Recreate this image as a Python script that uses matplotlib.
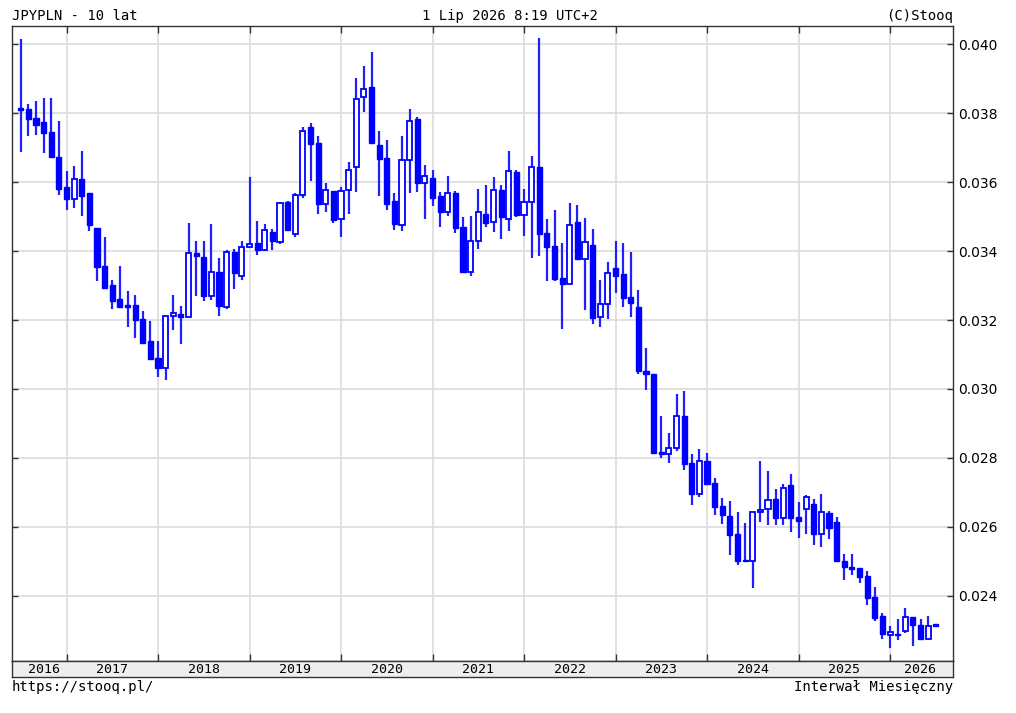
import numpy as np
import matplotlib
matplotlib.use("Agg")
import matplotlib.pyplot as plt

# monthly candles, Jul 2016 .. Jul 2026
start_year, start_month = 2016, 7
opens = [
    0.03816, 0.03813, 0.03785, 0.03773, 0.03744, 0.03674,
    0.03587, 0.03550, 0.03610, 0.03567, 0.03466, 0.03357, 0.03302, 0.03260, 0.03243, 0.03244, 0.03202, 0.03140,
    0.03090, 0.03061, 0.03211, 0.03216, 0.03210, 0.03393, 0.03383, 0.03271, 0.03339, 0.03239, 0.03397, 0.03327,
    0.03411, 0.03423, 0.03403, 0.03456, 0.03427, 0.03542, 0.03449, 0.03562, 0.03759, 0.03713, 0.03537, 0.03574,
    0.03492, 0.03577, 0.03645, 0.03846, 0.03875, 0.03708, 0.03669, 0.03546, 0.03475, 0.03664, 0.03783, 0.03598,
    0.03612, 0.03560, 0.03512, 0.03568, 0.03471, 0.03339, 0.03428, 0.03507, 0.03483, 0.03577, 0.03493, 0.03628,
    0.03504, 0.03541, 0.03643, 0.03452, 0.03414, 0.03321, 0.03304, 0.03483, 0.03376, 0.03418, 0.03208, 0.03247,
    0.03350, 0.03332, 0.03267, 0.03238, 0.03052, 0.03043, 0.02817, 0.02811, 0.02828, 0.02922, 0.02785, 0.02695,
    0.02791, 0.02727, 0.02661, 0.02632, 0.02579, 0.02504, 0.02500, 0.02642, 0.02651, 0.02680, 0.02627, 0.02720,
    0.02628, 0.02651, 0.02666, 0.02580, 0.02640, 0.02615, 0.02501, 0.02485, 0.02480, 0.02458, 0.02396, 0.02340,
    0.02287, 0.02288, 0.02299, 0.02338, 0.02316, 0.02274, 0.02317,
]
highs = [
    0.04016, 0.03828, 0.03835, 0.03843, 0.03843, 0.03778,
    0.03632, 0.03646, 0.03690, 0.03567, 0.03466, 0.03440, 0.03316, 0.03357, 0.03283, 0.03273, 0.03227, 0.03198,
    0.03140, 0.03213, 0.03273, 0.03242, 0.03481, 0.03430, 0.03430, 0.03478, 0.03379, 0.03404, 0.03406, 0.03430,
    0.03616, 0.03487, 0.03478, 0.03463, 0.03539, 0.03544, 0.03568, 0.03759, 0.03771, 0.03734, 0.03598, 0.03574,
    0.03587, 0.03658, 0.03901, 0.03937, 0.03977, 0.03749, 0.03723, 0.03568, 0.03734, 0.03812, 0.03788, 0.03650,
    0.03636, 0.03571, 0.03617, 0.03575, 0.03500, 0.03502, 0.03580, 0.03592, 0.03614, 0.03591, 0.03690, 0.03635,
    0.03581, 0.03676, 0.04017, 0.03493, 0.03520, 0.03422, 0.03538, 0.03535, 0.03495, 0.03465, 0.03317, 0.03368,
    0.03429, 0.03422, 0.03396, 0.03287, 0.03118, 0.03043, 0.02922, 0.02872, 0.02985, 0.02994, 0.02812, 0.02826,
    0.02814, 0.02741, 0.02683, 0.02675, 0.02643, 0.02611, 0.02644, 0.02791, 0.02762, 0.02709, 0.02724, 0.02753,
    0.02673, 0.02693, 0.02680, 0.02695, 0.02646, 0.02628, 0.02521, 0.02521, 0.02480, 0.02472, 0.02425, 0.02350,
    0.02311, 0.02332, 0.02364, 0.02338, 0.02332, 0.02342, 0.02319,
]
lows = [
    0.03686, 0.03734, 0.03737, 0.03683, 0.03672, 0.03564,
    0.03518, 0.03524, 0.03503, 0.03459, 0.03314, 0.03289, 0.03231, 0.03234, 0.03180, 0.03147, 0.03134, 0.03083,
    0.03035, 0.03025, 0.03170, 0.03130, 0.03210, 0.03270, 0.03254, 0.03259, 0.03213, 0.03232, 0.03290, 0.03315,
    0.03411, 0.03390, 0.03400, 0.03403, 0.03421, 0.03460, 0.03442, 0.03554, 0.03604, 0.03508, 0.03514, 0.03482,
    0.03442, 0.03508, 0.03572, 0.03804, 0.03711, 0.03561, 0.03518, 0.03461, 0.03457, 0.03568, 0.03572, 0.03493,
    0.03531, 0.03471, 0.03502, 0.03452, 0.03339, 0.03327, 0.03406, 0.03470, 0.03454, 0.03434, 0.03457, 0.03500,
    0.03445, 0.03380, 0.03387, 0.03312, 0.03312, 0.03175, 0.03304, 0.03376, 0.03228, 0.03189, 0.03179, 0.03204,
    0.03277, 0.03239, 0.03210, 0.03043, 0.02997, 0.02812, 0.02801, 0.02786, 0.02821, 0.02765, 0.02663, 0.02688,
    0.02724, 0.02635, 0.02608, 0.02519, 0.02488, 0.02500, 0.02424, 0.02615, 0.02606, 0.02604, 0.02604, 0.02586,
    0.02567, 0.02579, 0.02546, 0.02543, 0.02564, 0.02500, 0.02446, 0.02461, 0.02437, 0.02374, 0.02326, 0.02274,
    0.02250, 0.02272, 0.02292, 0.02253, 0.02274, 0.02274, 0.02311,
]
closes = [
    0.03810, 0.03782, 0.03767, 0.03741, 0.03672, 0.03579,
    0.03550, 0.03610, 0.03561, 0.03477, 0.03355, 0.03292, 0.03256, 0.03239, 0.03239, 0.03200, 0.03134, 0.03086,
    0.03061, 0.03213, 0.03220, 0.03210, 0.03393, 0.03385, 0.03271, 0.03338, 0.03242, 0.03397, 0.03336, 0.03412,
    0.03421, 0.03403, 0.03461, 0.03428, 0.03539, 0.03460, 0.03563, 0.03748, 0.03710, 0.03536, 0.03576, 0.03491,
    0.03574, 0.03635, 0.03842, 0.03870, 0.03713, 0.03667, 0.03536, 0.03478, 0.03665, 0.03777, 0.03597, 0.03617,
    0.03554, 0.03514, 0.03567, 0.03467, 0.03339, 0.03429, 0.03513, 0.03481, 0.03576, 0.03500, 0.03631, 0.03504,
    0.03541, 0.03643, 0.03449, 0.03413, 0.03318, 0.03304, 0.03475, 0.03376, 0.03426, 0.03207, 0.03247, 0.03337,
    0.03329, 0.03263, 0.03248, 0.03053, 0.03043, 0.02814, 0.02811, 0.02830, 0.02922, 0.02782, 0.02695, 0.02791,
    0.02724, 0.02659, 0.02633, 0.02575, 0.02502, 0.02500, 0.02644, 0.02649, 0.02678, 0.02625, 0.02712, 0.02625,
    0.02618, 0.02686, 0.02579, 0.02643, 0.02596, 0.02500, 0.02485, 0.02477, 0.02456, 0.02393, 0.02335, 0.02289,
    0.02295, 0.02287, 0.02338, 0.02314, 0.02274, 0.02313, 0.02311,
]
years = list(range(2016, 2027))
y_ticks = [0.024, 0.026, 0.028, 0.030, 0.032, 0.034, 0.036, 0.038, 0.040]

blue = "#0000ff"
W, H = 1016, 713
fig = plt.figure(figsize=(W / 100, H / 100), dpi=100)
fig.patch.set_facecolor("white")

L, R, T, B = 12, 953, 26, 661
ax = fig.add_axes([L / W, 1 - B / H, (R - L) / W, (B - T) / H])
n = len(opens)
x = np.arange(n)
o, h, l, c = map(np.array, (opens, highs, lows, closes))

ax.vlines(x, l, h, color="#2020ff", linewidth=1.6, zorder=2)
up = c >= o
bottom = np.minimum(o, c)
height = np.maximum(np.abs(c - o), 0.00002)
ax.bar(x[~up], height[~up], bottom=bottom[~up], width=0.66, color=blue,
       edgecolor=blue, linewidth=1.0, zorder=3)
ax.bar(x[up], height[up], bottom=bottom[up], width=0.66, color="white",
       edgecolor=blue, linewidth=1.3, zorder=3)

xmin, xmax = -1.148, 122.26
ax.set_xlim(xmin, xmax)
ax.set_ylim(0.022109, 0.040528)

# year boundaries (January candles)
first_jan = 13 - start_month
bounds = [first_jan + 12 * k for k in range(len(years) - 1)]
ax.set_xticks(bounds)
ax.set_xticklabels([])
ax.set_yticks(y_ticks)
ax.grid(True, color="#dcdcdc", linewidth=1.2, zorder=0)
ax.set_axisbelow(True)
ax.tick_params(axis="x", direction="in", length=5, width=1, color="#333333",
               top=True, bottom=True)
ax.tick_params(axis="y", direction="in", length=4, width=1, color="#333333",
               left=True, right=True, labelleft=False, labelright=True,
               labelsize=10, pad=4, labelcolor="black")
ax.yaxis.set_major_formatter(matplotlib.ticker.FormatStrFormatter("%.3f"))
for s in ax.spines.values():
    s.set_color("#333333")
    s.set_linewidth(1)

# year strip
sb = 677
sax = fig.add_axes([L / W, 1 - sb / H, (R - L) / W, (sb - B) / H])
sax.set_facecolor("#eeeeee")
sax.set_xlim(xmin, xmax)
sax.set_ylim(0, 1)
sax.set_xticks([])
sax.set_yticks([])
for s in sax.spines.values():
    s.set_color("#333333")
    s.set_linewidth(1)
edges = [0] + bounds + [xmax - 0.3]
for i, yr in enumerate(years):
    xc = (edges[i] + edges[i + 1]) / 2
    sax.text(xc, 0.45, str(yr), ha="center", va="center", fontsize=9.5,
             family="DejaVu Sans Mono")

mono = "DejaVu Sans Mono"
fig.text(L / W, 1 - 16 / H, "JPYPLN - 10 lat", ha="left", va="center",
         fontsize=10, family=mono)
fig.text(510 / W, 1 - 16 / H, "1 Lip 2026 8:19 UTC+2", ha="center", va="center",
         fontsize=10, family=mono)
fig.text(R / W, 1 - 16 / H, "(C)Stooq", ha="right", va="center",
         fontsize=10, family=mono)
fig.text(L / W, 1 - 687 / H, "https://stooq.pl/", ha="left", va="center",
         fontsize=10, family=mono)
fig.text(R / W, 1 - 687 / H, "Interwał Miesięczny", ha="right", va="center",
         fontsize=10, family=mono)

fig.savefig("out.png", dpi=100)
